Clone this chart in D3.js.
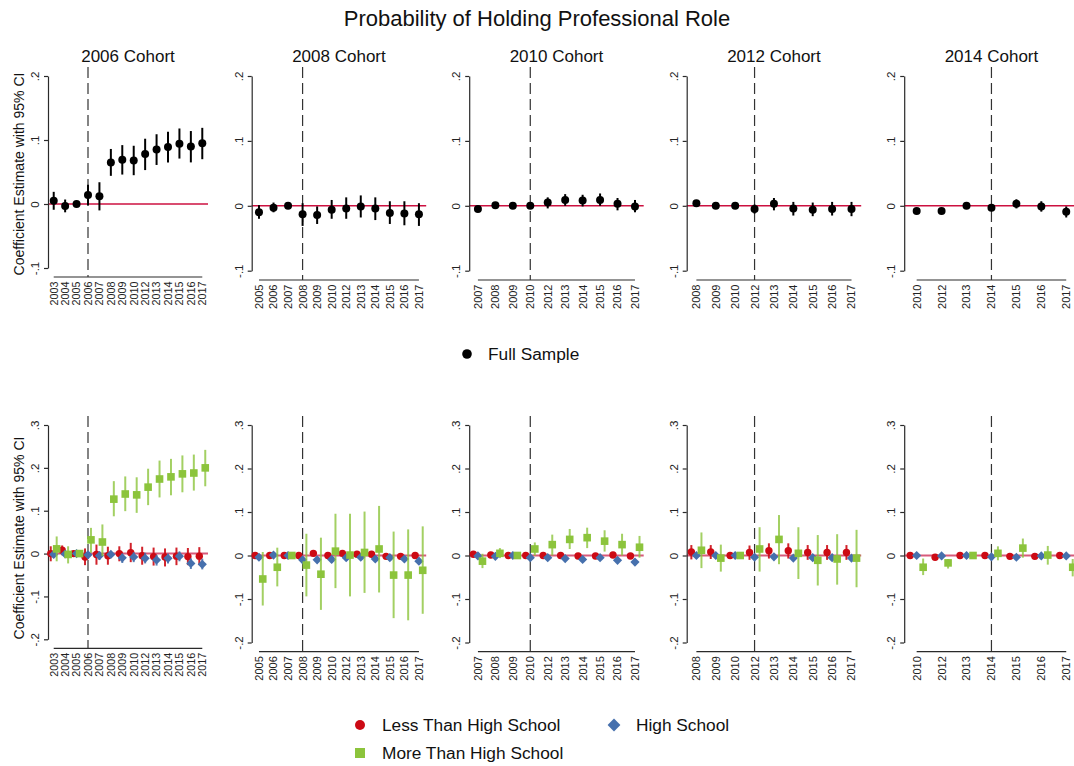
<!DOCTYPE html>
<html>
<head>
<meta charset="utf-8">
<script src="https://cdn.jsdelivr.net/npm/d3@7"></script>
<style>
  html, body { margin: 0; padding: 0; background: #fff; }
  svg { display: block; font-family: "Liberation Sans", Arial, sans-serif; }
</style>
</head>
<body>
<svg id="chart" width="1074" height="766"></svg>
<script>
// ---------------- DATA ----------------
// each entry: [estimate, lower 95% CI, upper 95% CI]; reference year has no CI
const cohortYears = ["2006", "2008", "2010", "2012", "2014"];
const cohortTitles = ["2006 Cohort", "2008 Cohort", "2010 Cohort", "2012 Cohort", "2014 Cohort"];

const years2006 = ["2003","2004","2005","2006","2007","2008","2009","2010","2012","2013","2014","2015","2016","2017"];
const full2006 = [[0.005,-0.009,0.019],[-0.003,-0.013,0.007],[0,null,null],[0.014,-0.002,0.030],[0.012,-0.010,0.034],[0.065,0.044,0.086],[0.069,0.046,0.092],[0.068,0.045,0.091],[0.078,0.053,0.102],[0.085,0.061,0.109],[0.089,0.065,0.113],[0.094,0.071,0.118],[0.090,0.065,0.114],[0.095,0.070,0.119]];
const lths2006 = [[0,-0.018,0.017],[0.008,-0.004,0.019],[0,null,null],[-0.008,-0.027,0.012],[-0.002,-0.026,0.021],[-0.005,-0.026,0.016],[0.000,-0.018,0.017],[0.002,-0.020,0.025],[-0.005,-0.026,0.016],[-0.007,-0.028,0.014],[-0.008,-0.030,0.012],[-0.006,-0.027,0.014],[-0.007,-0.027,0.013],[-0.006,-0.027,0.015]];
const hs2006 = [[-0.002,-0.010,0.005],[-0.001,-0.007,0.005],[0,null,null],[-0.003,-0.012,0.005],[-0.005,-0.015,0.005],[-0.002,-0.010,0.006],[-0.010,-0.022,0.000],[-0.008,-0.020,0.003],[-0.011,-0.023,0.002],[-0.015,-0.028,-0.003],[-0.011,-0.023,0.000],[-0.006,-0.018,0.005],[-0.023,-0.036,-0.011],[-0.025,-0.037,-0.012]];
const mths2006 = [[0.011,-0.018,0.040],[-0.002,-0.023,0.017],[0,null,null],[0.032,0.002,0.060],[0.027,-0.006,0.068],[0.127,0.087,0.169],[0.139,0.099,0.180],[0.137,0.095,0.178],[0.155,0.113,0.198],[0.174,0.131,0.217],[0.179,0.136,0.221],[0.186,0.143,0.229],[0.188,0.147,0.231],[0.200,0.157,0.242]];

const years2008 = ["2005","2006","2007","2008","2009","2010","2012","2013","2014","2015","2016","2017"];
const full2008 = [[-0.010,-0.020,0.001],[-0.003,-0.010,0.005],[0,null,null],[-0.013,-0.031,0.004],[-0.014,-0.028,-0.001],[-0.006,-0.020,0.009],[-0.004,-0.020,0.013],[-0.001,-0.018,0.016],[-0.004,-0.022,0.013],[-0.011,-0.028,0.007],[-0.012,-0.030,0.007],[-0.013,-0.031,0.004]];
const lths2008 = [[0,-0.004,0.004],[0,-0.004,0.004],[0,null,null],[0,-0.004,0.004],[0.005,0.001,0.010],[0,-0.004,0.004],[0.005,0.001,0.010],[0.003,-0.002,0.008],[0.003,-0.002,0.008],[-0.002,-0.006,0.003],[-0.002,-0.006,0.003],[0,-0.004,0.004]];
const hs2008 = [[-0.004,-0.010,0.003],[0.001,-0.006,0.008],[0,null,null],[-0.010,-0.017,-0.003],[-0.010,-0.017,-0.003],[-0.009,-0.016,-0.002],[-0.005,-0.012,0.002],[-0.004,-0.011,0.003],[-0.008,-0.015,-0.001],[-0.005,-0.012,0.002],[-0.008,-0.015,-0.001],[-0.013,-0.020,-0.006]];
const mths2008 = [[-0.054,-0.115,0.008],[-0.027,-0.071,0.018],[0,null,null],[-0.022,-0.094,0.050],[-0.043,-0.125,0.041],[0.010,-0.075,0.096],[0.001,-0.094,0.096],[0.007,-0.086,0.101],[0.015,-0.085,0.114],[-0.045,-0.144,0.055],[-0.045,-0.149,0.060],[-0.034,-0.134,0.067]];

const years2010 = ["2007","2008","2009","2010","2012","2013","2014","2015","2016","2017"];
const full2010 = [[-0.005,-0.009,-0.001],[0.001,-0.003,0.004],[0,null,null],[0,-0.004,0.004],[0.005,-0.004,0.013],[0.009,0.000,0.018],[0.008,-0.001,0.017],[0.009,0.000,0.019],[0.003,-0.007,0.012],[-0.001,-0.010,0.009]];
const lths2010 = [[0.003,0.000,0.006],[0.001,-0.002,0.004],[0,null,null],[0,-0.003,0.003],[0,-0.003,0.003],[0,-0.003,0.003],[-0.001,-0.004,0.002],[-0.001,-0.004,0.002],[0.001,-0.002,0.004],[-0.001,-0.004,0.002]];
const hs2010 = [[-0.001,-0.004,0.002],[-0.002,-0.005,0.001],[0,null,null],[-0.005,-0.008,-0.002],[-0.005,-0.008,-0.002],[-0.007,-0.010,-0.004],[-0.009,-0.012,-0.006],[-0.005,-0.008,-0.002],[-0.011,-0.014,-0.008],[-0.015,-0.018,-0.012]];
const mths2010 = [[-0.013,-0.029,0.004],[0.005,-0.006,0.017],[0,null,null],[0.015,0.000,0.030],[0.025,0.000,0.048],[0.037,0.015,0.061],[0.041,0.017,0.064],[0.033,0.009,0.058],[0.025,0.000,0.050],[0.019,-0.005,0.045]];

const years2012 = ["2008","2009","2010","2012","2013","2014","2015","2016","2017"];
const full2012 = [[0.004,-0.001,0.009],[0,-0.003,0.003],[0,null,null],[-0.005,-0.012,0.002],[0.003,-0.007,0.012],[-0.004,-0.015,0.006],[-0.006,-0.016,0.005],[-0.005,-0.015,0.006],[-0.005,-0.016,0.006]];
const lths2012 = [[0.008,-0.009,0.024],[0.008,-0.008,0.024],[0,null,null],[0.007,-0.010,0.023],[0.011,-0.007,0.028],[0.011,-0.007,0.028],[0.007,-0.010,0.024],[0.007,-0.010,0.024],[0.007,-0.010,0.024]];
const hs2012 = [[0,-0.004,0.004],[0,-0.004,0.004],[0,null,null],[-0.004,-0.008,0.000],[-0.003,-0.007,0.001],[-0.006,-0.010,-0.002],[-0.005,-0.009,-0.001],[-0.005,-0.009,-0.001],[-0.006,-0.010,-0.002]];
const mths2012 = [[0.012,-0.029,0.053],[-0.006,-0.037,0.025],[0,null,null],[0.015,-0.037,0.065],[0.037,-0.020,0.093],[0.005,-0.054,0.065],[-0.011,-0.069,0.047],[-0.008,-0.067,0.049],[-0.006,-0.073,0.059]];

const years2014 = ["2010","2012","2013","2014","2015","2016","2017"];
const full2014 = [[-0.008,-0.012,-0.004],[-0.008,-0.010,-0.006],[0,null,null],[-0.003,-0.007,0.002],[0.003,-0.004,0.010],[-0.001,-0.009,0.007],[-0.009,-0.018,-0.001]];
const lths2014 = [[0,-0.003,0.003],[-0.004,-0.007,-0.001],[0,null,null],[0,-0.003,0.003],[-0.002,-0.005,0.001],[-0.002,-0.005,0.001],[0,-0.003,0.003]];
const hs2014 = [[0,-0.003,0.003],[-0.001,-0.004,0.002],[0,null,null],[-0.003,-0.006,0.000],[-0.004,-0.007,-0.001],[-0.001,-0.004,0.002],[-0.001,-0.004,0.002]];
const mths2014 = [[-0.027,-0.045,-0.007],[-0.017,-0.030,-0.008],[0,null,null],[0.005,-0.011,0.021],[0.017,-0.005,0.039],[0.001,-0.021,0.022],[-0.027,-0.048,-0.008]];

const topTicks = [-0.1, 0, 0.1, 0.2];
const bottomTicks = [-0.2, -0.1, 0, 0.1, 0.2, 0.3];
const seriesNames = ["Less Than High School", "High School", "More Than High School"];
const fullName = "Full Sample";

// ---------------- ASSEMBLY ----------------
const yearsByCohort = [years2006, years2008, years2010, years2012, years2014];
const fullByCohort = [full2006, full2008, full2010, full2012, full2014];
const lthsByCohort = [lths2006, lths2008, lths2010, lths2012, lths2014];
const hsByCohort = [hs2006, hs2008, hs2010, hs2012, hs2014];
const mthsByCohort = [mths2006, mths2008, mths2010, mths2012, mths2014];

const FONT = '"Liberation Sans", Arial, sans-serif';
const svg = d3.select("#chart");
// Stata-style tick format: ".1", "-.1", "0"
const fmt = v => {
  if (Math.abs(v) < 1e-9) return "0";
  const s = Math.abs(v).toFixed(1).replace(/^0\./, ".");
  return (v < 0 ? "-" : "") + s;
};

const colors = {
  zeroTop: "#cc1040",
  zeroBottom: "#d85a7a",
  red: "#cc0a14",
  blue: "#4670ad",
  green: "#8cc43c",
  axis: "#2a2a2a"
};

function colRange(i) {
  if (i === 0) return [48, 208];
  const x0 = 251.7 + (i - 1) * 217.5;
  return [x0, x0 + 174.5];
}

// title
svg.append("text").attr("x", 537).attr("y", 26).attr("text-anchor", "middle")
  .attr("font-size", 22).attr("fill", "#111").text("Probability of Holding Professional Role");

function diamondPath(cx, cy, r) {
  return `M${cx},${cy - r}L${cx + r},${cy}L${cx},${cy + r}L${cx - r},${cy}Z`;
}

function drawPanel(i, row) {
  const years = yearsByCohort[i];
  const xr = colRange(i);
  const x = d3.scalePoint().domain(years).range(xr).padding(0.5);
  const isTop = row === 0;
  const ticks = isTop ? topTicks : bottomTicks;
  const yRange = isTop ? (i === 0 ? [268, 76] : [270.7, 76]) : (i === 0 ? [639.3, 425] : [642.5, 425]);
  const axisY = isTop ? (i === 0 ? 277 : 280) : (i === 0 ? 648.3 : 651.7);
  const dashTop = isTop ? 67 : 416;
  const y = d3.scaleLinear().domain([d3.min(ticks), d3.max(ticks)]).range(yRange);
  const g = svg.append("g");

  // zero line
  g.append("line").attr("x1", xr[0]).attr("x2", xr[1]).attr("y1", y(0)).attr("y2", y(0))
    .attr("stroke", isTop ? colors.zeroTop : colors.zeroBottom).attr("stroke-width", isTop ? 1.4 : 2);

  // y axis
  const ya = g.append("g").attr("transform", `translate(${xr[0]},0)`)
    .call(d3.axisLeft(y).tickValues(ticks).tickSize(4).tickSizeOuter(0).tickFormat(fmt));
  ya.select(".domain").attr("stroke", colors.axis).attr("stroke-width", 1.2);
  ya.selectAll(".tick line").attr("stroke", colors.axis).attr("stroke-width", 1.2);
  ya.selectAll(".tick text")
    .attr("x", 0).attr("y", -9).attr("dy", 0)
    .attr("text-anchor", "middle").attr("transform", "rotate(-90)")
    .attr("font-family", FONT).attr("font-size", 11.5).attr("fill", "#222");

  // x axis line (spans categories)
  g.append("line").attr("x1", x(years[0])).attr("x2", x(years[years.length - 1]))
    .attr("y1", axisY).attr("y2", axisY).attr("stroke", colors.axis).attr("stroke-width", 1.2);
  g.selectAll(".xl").data(years).enter().append("text")
    .attr("transform", d => `translate(${x(d)},${axisY + 4.5}) rotate(-90)`)
    .attr("text-anchor", "end").attr("dy", "0.36em")
    .attr("font-size", i === 0 ? 10.8 : 11).attr("fill", "#222").text(d => d);

  // dashed cohort line
  const cx = x(cohortYears[i]);
  g.append("line").attr("x1", cx).attr("x2", cx).attr("y1", dashTop).attr("y2", axisY)
    .attr("stroke", "#333").attr("stroke-width", 1.2).attr("stroke-dasharray", "11,5");

  // panel title
  if (isTop) {
    g.append("text").attr("x", (xr[0] + xr[1]) / 2).attr("y", 61.5).attr("text-anchor", "middle")
      .attr("font-size", 17).attr("fill", "#111").text(cohortTitles[i]);
  }

  const step = x.step();
  if (isTop) {
    const data = fullByCohort[i].map((d, k) => ({ yr: years[k], v: d[0], lo: d[1], hi: d[2] }));
    g.selectAll(".ci").data(data.filter(d => d.lo !== null)).enter().append("line")
      .attr("x1", d => x(d.yr)).attr("x2", d => x(d.yr))
      .attr("y1", d => y(d.lo)).attr("y2", d => y(d.hi))
      .attr("stroke", "#000").attr("stroke-width", 2);
    g.selectAll(".pt").data(data).enter().append("circle")
      .attr("cx", d => x(d.yr)).attr("cy", d => y(d.v)).attr("r", 4).attr("fill", "#000");
  } else {
    const series = [
      { data: lthsByCohort[i], off: -0.26, color: colors.red, ciColor: colors.red, ciOp: 0.9, shape: "circle" },
      { data: hsByCohort[i], off: 0, color: colors.blue, ciColor: colors.blue, ciOp: 0.85, shape: "diamond" },
      { data: mthsByCohort[i], off: 0.26, color: colors.green, ciColor: colors.green, ciOp: 0.8, shape: "square" }
    ];
    series.forEach(s => {
      const data = s.data.map((d, k) => ({ yr: years[k], v: d[0], lo: d[1], hi: d[2] }));
      const px = d => x(d.yr) + s.off * step;
      g.append("g").selectAll("line").data(data.filter(d => d.lo !== null)).enter().append("line")
        .attr("x1", px).attr("x2", px).attr("y1", d => y(d.lo)).attr("y2", d => y(d.hi))
        .attr("stroke", s.ciColor).attr("stroke-opacity", s.ciOp).attr("stroke-width", 2);
      const mg = g.append("g");
      if (s.shape === "circle") {
        mg.selectAll("circle").data(data).enter().append("circle")
          .attr("cx", px).attr("cy", d => y(d.v)).attr("r", 3.7).attr("fill", s.color);
      } else if (s.shape === "diamond") {
        mg.selectAll("path").data(data).enter().append("path")
          .attr("d", d => diamondPath(px(d), y(d.v), 4.6)).attr("fill", s.color);
      } else {
        mg.selectAll("rect").data(data).enter().append("rect")
          .attr("x", d => px(d) - 3.8).attr("y", d => y(d.v) - 3.8)
          .attr("width", 7.6).attr("height", 7.6).attr("fill", s.color);
      }
    });
  }

  // y axis title (first column only)
  if (i === 0) {
    const cy = isTop ? 174 : 538;
    svg.append("text").attr("transform", `translate(23.5,${cy}) rotate(-90)`)
      .attr("text-anchor", "middle").attr("font-size", 14).attr("fill", "#111")
      .text("Coefficient Estimate with 95% CI");
  }
}

for (let i = 0; i < 5; i++) { drawPanel(i, 0); drawPanel(i, 1); }

// legends
const LFS = 17.3;
svg.append("circle").attr("cx", 467).attr("cy", 354).attr("r", 4.8).attr("fill", "#000");
svg.append("text").attr("x", 488).attr("y", 360).attr("font-size", LFS).attr("fill", "#111").text(fullName);

svg.append("circle").attr("cx", 360).attr("cy", 725).attr("r", 5).attr("fill", colors.red);
svg.append("text").attr("x", 382).attr("y", 731).attr("font-size", LFS).attr("fill", "#111").text(seriesNames[0]);
svg.append("path").attr("d", diamondPath(614, 725, 6.4)).attr("fill", colors.blue);
svg.append("text").attr("x", 636).attr("y", 731).attr("font-size", LFS).attr("fill", "#111").text(seriesNames[1]);
svg.append("rect").attr("x", 355).attr("y", 748).attr("width", 10).attr("height", 10).attr("fill", colors.green);
svg.append("text").attr("x", 382).attr("y", 759).attr("font-size", LFS).attr("fill", "#111").text(seriesNames[2]);
</script>
</body>
</html>
